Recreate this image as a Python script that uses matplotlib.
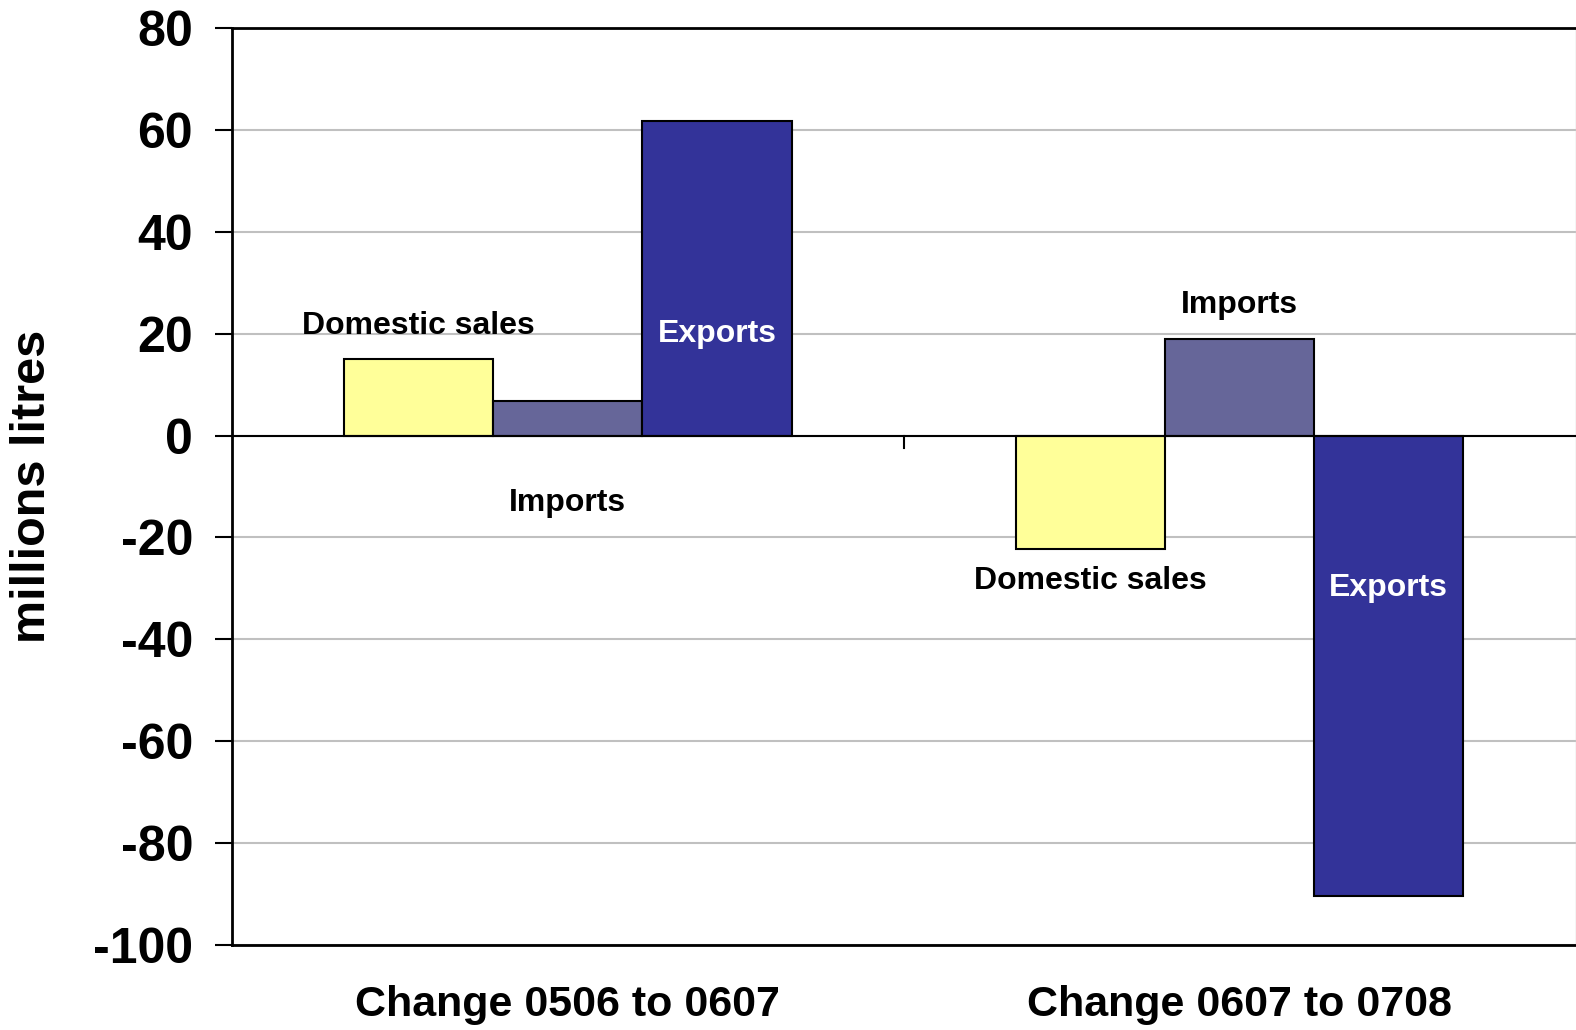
import matplotlib
matplotlib.use("Agg")
import matplotlib.pyplot as plt
from matplotlib.transforms import blended_transform_factory

categories = ["Change 0506 to 0607", "Change 0607 to 0708"]
series_names = ["Domestic sales", "Imports", "Exports"]
domestic = [15.0, -22.3]
imports = [6.8, 18.9]
exports = [61.8, -90.3]
yticks = [80, 60, 40, 20, 0, -20, -40, -60, -80, -100]

# label y positions (data units) for each series in each category
label_y = {
    "Domestic sales": [21.5, -28.5],
    "Imports": [-13.3, 25.6],
    "Exports": [20.0, -30.0],
}

colors = {"Domestic sales": "#FFFF99", "Imports": "#666699", "Exports": "#333399"}
label_colors = {"Domestic sales": "black", "Imports": "black", "Exports": "white"}

plt.rcParams["font.family"] = ["Liberation Sans", "DejaVu Sans"]
plt.rcParams["font.weight"] = "bold"

fig = plt.figure(figsize=(15.76, 10.30), dpi=100)
ax = fig.add_axes([0.1472, 0.0825, 0.8525, 0.8903])

width = 0.222
offsets = [-width, 0.0, width]
series_vals = [domestic, imports, exports]
for name, vals, off in zip(series_names, series_vals, offsets):
    xs = [i + off for i in range(len(categories))]
    ax.bar(xs, vals, width=width, color=colors[name], edgecolor="black",
           linewidth=1.5, zorder=3)
    for i, x in enumerate(xs):
        ax.text(x, label_y[name][i], name, ha="center", va="center",
                fontsize=23, fontweight="bold", color=label_colors[name], zorder=4)

ax.set_xlim(-0.5, 1.5)
ax.set_ylim(-100, 80)
ax.set_yticks(yticks)
ax.set_yticklabels([str(v) for v in yticks], fontsize=36, fontweight="bold")
ax.tick_params(axis="y", direction="out", length=12, width=1.5, pad=16)
ax.set_xticks([])
ax.yaxis.grid(True, color="#C0C0C0", linewidth=1.5, zorder=0)
ax.set_axisbelow(True)

# zero line and category boundary tick
ax.axhline(0, color="black", linewidth=1.5, zorder=5)
ax.plot([0.5, 0.5], [0, -2.4], color="black", linewidth=1.5, zorder=5, clip_on=False)

for side in ["left", "bottom", "top"]:
    ax.spines[side].set_color("black")
    ax.spines[side].set_linewidth(2)
ax.spines["right"].set_color("#D0D0D0")
ax.spines["right"].set_linewidth(1)

trans = blended_transform_factory(ax.transData, ax.transAxes)
for i, cat in enumerate(categories):
    ax.text(i, -0.0654, cat, transform=trans, ha="center", va="center",
            fontsize=31, fontweight="bold")

ax.set_ylabel("millions litres", fontsize=35, fontweight="bold", va="center")
ax.yaxis.set_label_coords(-0.1488, 0.5)

fig.savefig("out.png", dpi=100)
